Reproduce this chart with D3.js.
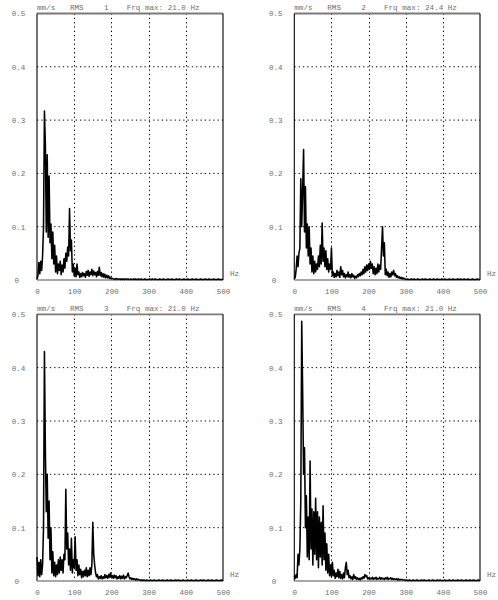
<!DOCTYPE html>
<html>
<head>
<meta charset="utf-8">
<script src="https://cdn.jsdelivr.net/npm/d3@7"></script>
<style>
  html, body { margin: 0; padding: 0; background: #fff; }
  svg { display: block; }
</style>
</head>
<body>
<svg id="chart" width="498" height="600"></svg>
<script>
// ---------- DATA (amplitude in mm/s RMS, one value every 2.5 Hz from 0 to 500 Hz) ----------
const freqStep = 2.5;
const freqMax = 500;
const xTickValues = [0, 100, 200, 300, 400, 500];
const yTickValues = [0, 0.1, 0.2, 0.3, 0.4, 0.5];
const channelIds = [1, 2, 3, 4];
const frqMaxLabels = ["21.0", "24.4", "21.0", "21.0"];
const unitLabel = "mm/s";
const measLabel = "RMS";
const freqUnit = "Hz";

const series1 = [
  0.002,0.008,0.033,0.012,0.035,0.018,0.045,0.098,0.317,0.255,
  0.090,0.235,0.080,0.195,0.070,0.105,0.040,0.090,0.030,0.065,
  0.015,0.045,0.012,0.030,0.018,0.035,0.010,0.028,0.015,0.040,
  0.022,0.050,0.035,0.062,0.045,0.134,0.055,0.075,0.015,0.030,
  0.008,0.022,0.006,0.030,0.010,0.015,0.005,0.012,0.006,0.014,
  0.008,0.012,0.005,0.016,0.009,0.018,0.007,0.015,0.010,0.020,
  0.008,0.017,0.010,0.014,0.006,0.016,0.009,0.024,0.008,0.014,
  0.006,0.012,0.005,0.011,0.004,0.009,0.004,0.008,0.003,0.005,
  0.002,0.003,0.002,0.002,0.001,0.003,0.002,0.001,0.002,0.002,
  0.001,0.002,0.001,0.002,0.001,0.002,0.002,0.001,0.002,0.001,
  0.001,0.002,0.001,0.001,0.002,0.001,0.002,0.001,0.001,0.002,
  0.001,0.001,0.002,0.001,0.001,0.001,0.002,0.001,0.001,0.001,
  0.001,
  0.002,0.001,0.001,0.002,0.001,0.001,0.002,0.001,0.001,0.001,
  0.001,0.002,0.001,0.001,0.001,0.002,0.001,0.001,0.001,0.001,
  0.002,0.001,0.001,0.001,0.002,0.001,0.001,0.001,0.001,0.002,
  0.001,0.001,0.002,0.001,0.001,0.001,0.001,0.002,0.001,0.001,
  0.001,0.002,0.001,0.001,0.001,0.001,0.002,0.001,0.001,0.001,
  0.002,0.001,0.001,0.001,0.001,0.002,0.001,0.001,0.001,0.001,
  0.002,0.001,0.001,0.001,0.002,0.001,0.001,0.001,0.001,0.002,
  0.001,0.001,0.001,0.001,0.002,0.001,0.001,0.001,0.001,0.001
];

const series2 = [
  0.002,0.005,0.020,0.045,0.025,0.050,0.060,0.190,0.100,0.170,
  0.245,0.090,0.175,0.060,0.105,0.045,0.100,0.030,0.060,0.015,
  0.045,0.012,0.035,0.015,0.030,0.020,0.045,0.025,0.065,0.030,
  0.107,0.035,0.060,0.025,0.055,0.020,0.040,0.015,0.030,0.020,
  0.060,0.008,0.015,0.005,0.012,0.006,0.018,0.008,0.015,0.005,
  0.025,0.010,0.018,0.006,0.012,0.004,0.010,0.006,0.015,0.005,
  0.010,0.004,0.012,0.006,0.009,0.003,0.007,0.004,0.010,0.006,
  0.012,0.008,0.015,0.010,0.020,0.012,0.025,0.015,0.028,0.018,
  0.030,0.020,0.035,0.022,0.030,0.012,0.025,0.010,0.022,0.012,
  0.030,0.015,0.028,0.020,0.060,0.100,0.045,0.070,0.010,0.020,
  0.008,0.015,0.005,0.012,0.006,0.015,0.010,0.018,0.008,0.012,
  0.005,0.008,0.004,0.006,0.003,0.005,0.002,0.004,0.002,0.003,
  0.001,
  0.001,0.002,0.001,0.001,0.001,0.002,0.001,0.001,0.002,0.001,
  0.001,0.001,0.002,0.001,0.001,0.001,0.001,0.002,0.001,0.001,
  0.002,0.001,0.001,0.001,0.001,0.002,0.001,0.001,0.001,0.002,
  0.001,0.001,0.001,0.002,0.001,0.001,0.001,0.001,0.002,0.001,
  0.001,0.002,0.001,0.001,0.001,0.001,0.002,0.001,0.001,0.001,
  0.002,0.001,0.001,0.001,0.001,0.002,0.001,0.001,0.002,0.001,
  0.001,0.001,0.002,0.001,0.001,0.001,0.002,0.001,0.001,0.001,
  0.001,0.002,0.001,0.001,0.001,0.001,0.002,0.001,0.001,0.001
];

const series3 = [
  0.045,0.010,0.035,0.008,0.040,0.012,0.030,0.100,0.430,0.245,
  0.130,0.200,0.080,0.150,0.040,0.100,0.015,0.055,0.010,0.035,
  0.008,0.030,0.012,0.040,0.015,0.045,0.020,0.040,0.015,0.050,
  0.040,0.172,0.060,0.090,0.030,0.060,0.020,0.080,0.015,0.040,
  0.025,0.083,0.020,0.040,0.010,0.030,0.012,0.022,0.006,0.018,
  0.008,0.020,0.010,0.025,0.008,0.020,0.010,0.025,0.012,0.030,
  0.110,0.050,0.030,0.015,0.008,0.012,0.004,0.008,0.005,0.010,
  0.004,0.008,0.005,0.012,0.006,0.010,0.005,0.012,0.007,0.015,
  0.006,0.010,0.005,0.011,0.006,0.010,0.004,0.008,0.005,0.010,
  0.004,0.009,0.005,0.011,0.004,0.008,0.006,0.010,0.015,0.008,
  0.004,0.006,0.003,0.005,0.003,0.004,0.002,0.004,0.002,0.003,
  0.002,0.002,0.001,0.002,0.001,0.002,0.001,0.001,0.002,0.001,
  0.001,
  0.001,0.002,0.001,0.001,0.001,0.002,0.001,0.001,0.001,0.001,
  0.002,0.001,0.001,0.001,0.002,0.001,0.001,0.001,0.001,0.002,
  0.001,0.001,0.001,0.002,0.001,0.001,0.001,0.001,0.002,0.001,
  0.001,0.002,0.001,0.001,0.001,0.001,0.002,0.001,0.001,0.001,
  0.001,0.002,0.001,0.001,0.001,0.002,0.001,0.001,0.001,0.001,
  0.002,0.001,0.001,0.001,0.001,0.002,0.001,0.001,0.002,0.001,
  0.001,0.001,0.001,0.002,0.001,0.001,0.001,0.002,0.001,0.001,
  0.001,0.001,0.002,0.001,0.001,0.001,0.001,0.002,0.001,0.001
];

const series4 = [
  0.010,0.005,0.012,0.006,0.050,0.030,0.060,0.150,0.487,0.355,
  0.200,0.250,0.100,0.160,0.045,0.120,0.040,0.225,0.060,0.135,
  0.030,0.130,0.050,0.155,0.040,0.130,0.025,0.120,0.045,0.110,
  0.030,0.141,0.040,0.090,0.020,0.070,0.015,0.050,0.010,0.030,
  0.008,0.035,0.010,0.020,0.005,0.015,0.008,0.022,0.006,0.018,
  0.005,0.012,0.004,0.015,0.006,0.025,0.035,0.012,0.020,0.006,
  0.010,0.004,0.008,0.003,0.012,0.005,0.008,0.003,0.006,0.003,
  0.005,0.002,0.006,0.004,0.008,0.005,0.012,0.008,0.010,0.004,
  0.006,0.003,0.005,0.004,0.007,0.003,0.006,0.004,0.007,0.003,
  0.005,0.004,0.007,0.003,0.006,0.004,0.005,0.003,0.006,0.004,
  0.007,0.003,0.005,0.004,0.006,0.003,0.005,0.003,0.004,0.003,
  0.004,0.002,0.004,0.002,0.003,0.002,0.003,0.002,0.002,0.002,
  0.001,
  0.002,0.001,0.001,0.002,0.001,0.001,0.001,0.002,0.001,0.001,
  0.001,0.002,0.001,0.001,0.001,0.001,0.002,0.001,0.001,0.002,
  0.001,0.001,0.001,0.001,0.002,0.001,0.001,0.001,0.002,0.001,
  0.001,0.001,0.001,0.002,0.001,0.001,0.002,0.001,0.001,0.001,
  0.001,0.002,0.001,0.001,0.001,0.001,0.002,0.001,0.001,0.001,
  0.002,0.001,0.001,0.001,0.001,0.002,0.001,0.001,0.001,0.002,
  0.001,0.001,0.001,0.001,0.002,0.001,0.001,0.001,0.002,0.001,
  0.001,0.001,0.002,0.001,0.001,0.001,0.001,0.002,0.001,0.001
];

const allSeries = [series1, series2, series3, series4];

// ---------- LAYOUT ----------
const panels = [
  { left: 37,    right: 223, top: 13.5,  bottom: 280 },
  { left: 294.3, right: 480, top: 13.5,  bottom: 280 },
  { left: 37,    right: 223, top: 314.3, bottom: 581 },
  { left: 294.3, right: 480, top: 314.3, bottom: 581 }
];

const FONT = "'Liberation Mono', 'DejaVu Sans Mono', monospace";
const FS = 7.6;
const TXT = "#6f6f6f";

const svg = d3.select("#chart");

panels.forEach((p, k) => {
  const data = allSeries[k];
  const x = d3.scaleLinear().domain([0, freqMax]).range([p.left, p.right]);
  const y = d3.scaleLinear().domain([0, 0.5]).range([p.bottom, p.top]);
  const g = svg.append("g");

  // grid
  g.selectAll(".hgrid").data(yTickValues.filter(v => v > 0 && v < 0.5)).enter()
    .append("line")
    .attr("x1", p.left).attr("x2", p.right)
    .attr("y1", d => y(d)).attr("y2", d => y(d))
    .attr("stroke", "#000").attr("stroke-width", 1)
    .attr("stroke-dasharray", "1.3,3");
  g.selectAll(".vgrid").data(xTickValues.filter(v => v > 0 && v < freqMax)).enter()
    .append("line")
    .attr("x1", d => Math.round(x(d)) + 0.5).attr("x2", d => Math.round(x(d)) + 0.5)
    .attr("y1", p.top).attr("y2", p.bottom)
    .attr("stroke", "#000").attr("stroke-width", 1)
    .attr("stroke-dasharray", "1.3,3");

  // frame
  g.append("line").attr("x1", p.left).attr("x2", p.right).attr("y1", p.top).attr("y2", p.top)
    .attr("stroke", "#7a7a7a").attr("stroke-width", 1.8);
  g.append("line").attr("x1", p.left).attr("x2", p.left).attr("y1", p.top).attr("y2", p.bottom)
    .attr("stroke", "#000").attr("stroke-width", 1.1);
  g.append("line").attr("x1", p.right).attr("x2", p.right).attr("y1", p.top).attr("y2", p.bottom)
    .attr("stroke", "#000").attr("stroke-width", 1.1);
  g.append("line").attr("x1", p.left).attr("x2", p.right).attr("y1", p.bottom).attr("y2", p.bottom)
    .attr("stroke", "#8a8a8a").attr("stroke-width", 1.5);

  // spectrum
  const line = d3.line()
    .x((d, i) => x(i * freqStep))
    .y(d => y(d));
  g.append("path").datum(data)
    .attr("d", line)
    .attr("fill", "none")
    .attr("stroke", "#000")
    .attr("stroke-width", 1.55)
    .attr("stroke-linejoin", "round");

  // x axis labels
  const xAxis = d3.axisBottom(x).tickValues(xTickValues).tickSize(0).tickFormat(d3.format("d"));
  const xa = g.append("g").attr("transform", `translate(0,${p.bottom + 6})`).call(xAxis);
  xa.select(".domain").remove();
  xa.selectAll("text").attr("font-family", FONT).attr("font-size", FS).attr("fill", TXT);

  // y axis labels
  const yAxis = d3.axisLeft(y).tickValues(yTickValues).tickSize(0)
    .tickFormat(d => d === 0 ? "0" : d3.format(".1f")(d));
  const ya = g.append("g").attr("transform", `translate(${p.left},0)`).call(yAxis);
  ya.select(".domain").remove();
  ya.selectAll("text")
    .attr("text-anchor", "start")
    .attr("x", d => d === 0 ? -22.5 : -25.3)
    .attr("dy", "0.32em")
    .attr("font-family", FONT).attr("font-size", FS).attr("fill", TXT);

  // Hz label
  g.append("text").attr("x", p.right + 7).attr("y", p.bottom - 4.5)
    .attr("font-family", FONT).attr("font-size", FS).attr("fill", TXT).text(freqUnit);

  // header
  const hy = p.top - 3.8;
  const head = [
    { dx: 0, t: unitLabel },
    { dx: 33, t: measLabel },
    { dx: 67, t: String(channelIds[k]) },
    { dx: 89.7, t: "Frq max: " + frqMaxLabels[k] + " " + freqUnit }
  ];
  head.forEach(h => {
    g.append("text").attr("x", p.left + h.dx).attr("y", hy)
      .attr("font-family", FONT).attr("font-size", FS).attr("fill", TXT)
      .attr("xml:space", "preserve").text(h.t);
  });
});
</script>
</body>
</html>
